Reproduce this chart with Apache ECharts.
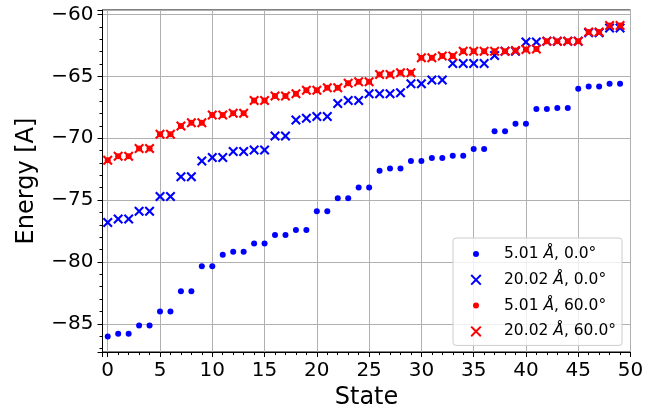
<!DOCTYPE html>
<html><head><meta charset="utf-8">
<script src="https://cdn.jsdelivr.net/npm/echarts@6/dist/echarts.min.js"></script>
<style>html,body{margin:0;padding:0;background:#fff}#c{width:655px;height:415px}</style>
</head><body><div id="c"></div>
<script>
// ---- data ----
const states = [0,1,2,3,4,5,6,7,8,9,10,11,12,13,14,15,16,17,18,19,20,21,22,23,24,25,26,27,28,29,30,31,32,33,34,35,36,37,38,39,40,41,42,43,44,45,46,47,48,49];
const e501_0 = [-86.02,-85.81,-85.81,-85.13,-85.13,-84.0,-84.0,-82.37,-82.37,-80.35,
                -80.35,-79.41,-79.17,-79.17,-78.5,-78.5,-77.82,-77.82,-77.42,-77.42,
                -75.89,-75.89,-74.84,-74.84,-73.98,-73.98,-72.63,-72.45,-72.45,-71.83,
                -71.83,-71.59,-71.59,-71.42,-71.42,-70.86,-70.86,-69.44,-69.44,-68.82,
                -68.82,-67.63,-67.63,-67.55,-67.55,-66.0,-65.81,-65.81,-65.59,-65.59];
const e2002_0 = [-76.8,-76.53,-76.53,-75.89,-75.89,-74.7,-74.7,-73.12,-73.12,-71.83,
                 -71.56,-71.56,-71.08,-71.08,-70.94,-70.94,-69.81,-69.81,-68.52,-68.39,
                 -68.25,-68.25,-67.2,-66.94,-66.94,-66.4,-66.4,-66.4,-66.33,-65.59,
                 -65.59,-65.3,-65.3,-63.95,-63.95,-63.95,-63.95,-63.31,-62.96,-62.96,
                 -62.23,-62.23,-62.15,-62.15,-62.15,-62.15,-61.48,-61.48,-61.08,-61.08];
const e501_60 = [-71.77,-71.45,-71.45,-70.83,-70.83,-69.68,-69.68,-69.0,-68.74,-68.74,
                 -68.12,-68.12,-67.98,-67.98,-66.94,-66.94,-66.59,-66.59,-66.4,-66.13,
                 -66.13,-65.91,-65.91,-65.56,-65.43,-65.43,-64.84,-64.84,-64.7,-64.7,
                 -63.49,-63.49,-63.36,-63.36,-62.96,-62.96,-62.96,-62.96,-62.96,-62.9,
                 -62.82,-62.78,-62.15,-62.15,-62.15,-62.15,-61.42,-61.42,-60.89,-60.89];
const e2002_60 = [-71.77,-71.45,-71.45,-70.83,-70.83,-69.68,-69.68,-69.0,-68.74,-68.74,
                  -68.12,-68.12,-67.98,-67.98,-66.94,-66.94,-66.59,-66.59,-66.4,-66.13,
                  -66.13,-65.91,-65.91,-65.56,-65.43,-65.43,-64.84,-64.84,-64.7,-64.7,
                  -63.49,-63.49,-63.36,-63.36,-62.96,-62.96,-62.96,-62.96,-62.96,-62.9,
                  -62.82,-62.78,-62.15,-62.15,-62.15,-62.15,-61.42,-61.42,-60.89,-60.89];
const seriesNames = ['5.01 Å, 0.0°', '20.02 Å, 0.0°', '5.01 Å, 60.0°', '20.02 Å, 60.0°'];
const xTickLabels = [0,5,10,15,20,25,30,35,40,45,50];
const yTickLabels = [-85,-80,-75,-70,-65,-60];
const xTitle = 'State';
const yTitle = 'Energy [A]';

// ---- chart ----
const FONT = 'DejaVu Sans';
const fmt = v => (v < 0 ? '\u2212' + Math.abs(v) : String(v));
const all = [].concat(e501_0, e2002_0, e501_60, e2002_60);
const lo = Math.min(...all), hi = Math.max(...all), pad = (hi - lo) * 0.05;

const X_PATH = 'path://M0,1.5L1.5,0L5,3.5L8.5,0L10,1.5L6.5,5L10,8.5L8.5,10L5,6.5L1.5,10L0,8.5L3.5,5Z';
const BOXPTS = 'M0,0L0.01,0Z M46,20L45.99,20Z ';
const LEG_DOT = 'path://' + BOXPTS + 'M20,10A3,3 0 1,1 26,10A3,3 0 1,1 20,10Z';
const LEG_X = 'path://' + BOXPTS + 'M17.5,5.9L18.9,4.5L23,8.6L27.1,4.5L28.5,5.9L24.4,10L28.5,14.1L27.1,15.5L23,11.4L18.9,15.5L17.5,14.1L21.6,10Z';

function mk(name, vals, color, sym, size) {
  return {
    name, type: 'scatter',
    data: states.map((s, i) => [s, vals[i]]),
    symbol: sym, symbolSize: size,
    itemStyle: { color, opacity: 1 },
    emphasis: { disabled: true },
    silent: true
  };
}

const axisCommon = {
  axisLine: { show: true, onZero: false, lineStyle: { color: '#000', width: 1 } },
  axisTick: { show: true, inside: false, length: 5, lineStyle: { color: '#000', width: 1 } },
  minorTick: { show: true, splitNumber: 5, length: 3, lineStyle: { color: '#000', width: 1 } },
  splitLine: { show: true, lineStyle: { color: '#b0b0b0', width: 1 } },
  nameLocation: 'middle',
  nameTextStyle: { fontFamily: FONT, fontSize: 24, color: '#000' }
};

const chart = echarts.init(document.getElementById('c'), null, { renderer: 'canvas' });
chart.setOption({
  animation: false,
  backgroundColor: '#fff',
  grid: { left: 102.5, right: 24.5, top: 10, bottom: 62, show: true, borderColor: '#000', borderWidth: 1, backgroundColor: 'transparent' },
  xAxis: Object.assign({}, axisCommon, {
    type: 'value', min: -0.5, max: 50, splitNumber: 10,
    name: xTitle, nameGap: 34,
    axisLabel: { fontFamily: FONT, fontSize: 20, color: '#000', margin: 9, showMinLabel: false,
      formatter: v => (xTickLabels.indexOf(v) >= 0 ? fmt(v) : '') }
  }),
  yAxis: Object.assign({}, axisCommon, {
    type: 'value', min: lo - pad, max: hi + pad, splitNumber: 5,
    name: yTitle, nameGap: 64,
    axisLabel: { fontFamily: FONT, fontSize: 20, color: '#000', margin: 9, showMinLabel: false, showMaxLabel: false,
      formatter: v => (yTickLabels.indexOf(Math.round(v * 1000) / 1000) >= 0 ? fmt(Math.round(v)) : '') }
  }),
  legend: {
    orient: 'vertical', left: 453, top: 238,
    data: [
      { name: seriesNames[0], icon: LEG_DOT },
      { name: seriesNames[1], icon: LEG_X },
      { name: seriesNames[2], icon: LEG_DOT },
      { name: seriesNames[3], icon: LEG_X }
    ],
    itemWidth: 46, itemHeight: 20, itemGap: 5.8,
    padding: [6, 6, 4, 0],
    backgroundColor: 'rgba(255,255,255,0.8)', borderColor: '#cccccc', borderWidth: 1, borderRadius: 3,
    selectedMode: false,
    textStyle: { fontFamily: FONT, fontSize: 15.5, color: '#000',
      rich: { i: { fontFamily: FONT, fontSize: 15.5, fontStyle: 'italic', color: '#000' } } },
    formatter: n => n.replace('Å', '{i|Å}')
  },
  series: [
    mk(seriesNames[0], e501_0, '#0000ff', 'circle', 6),
    mk(seriesNames[1], e2002_0, '#0000ff', X_PATH, 10),
    mk(seriesNames[2], e501_60, '#ff0000', 'circle', 6),
    mk(seriesNames[3], e2002_60, '#ff0000', X_PATH, 10)
  ]
});
</script></body></html>
